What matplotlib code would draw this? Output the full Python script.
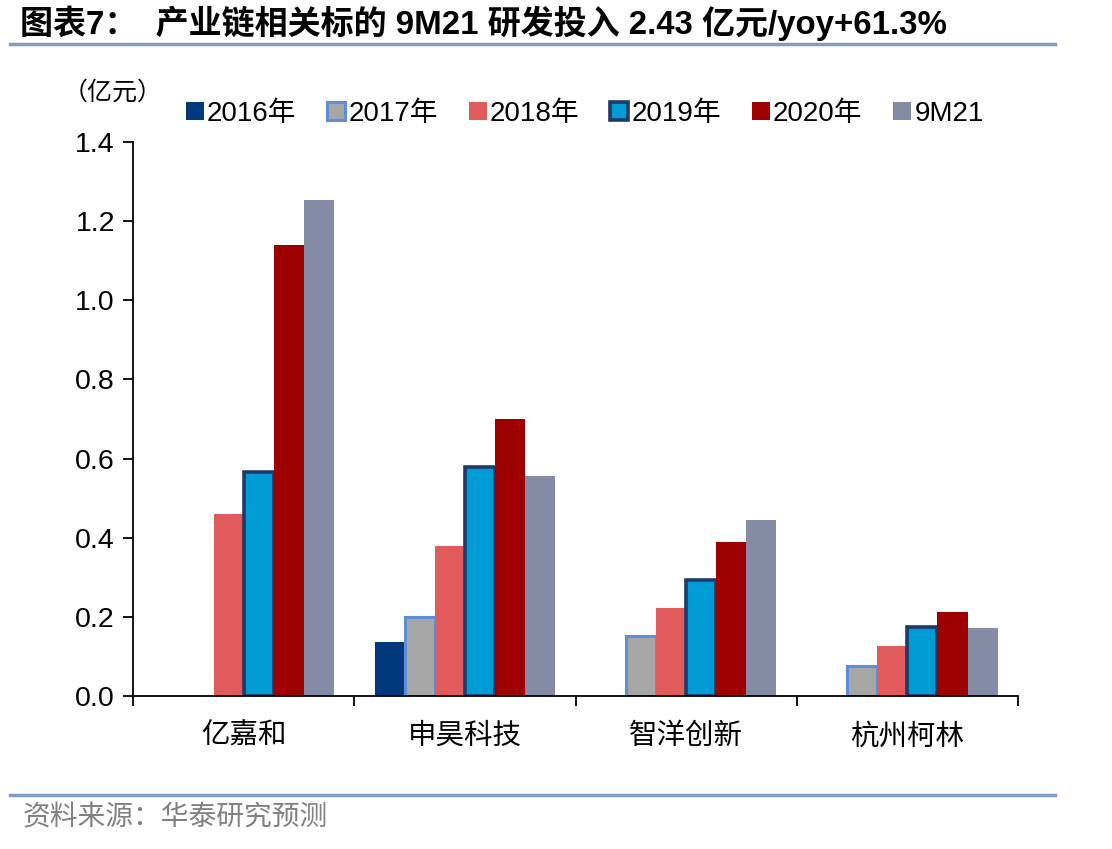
import numpy as np
import matplotlib
matplotlib.use("Agg")
import matplotlib.pyplot as plt
from matplotlib.lines import Line2D

plt.rcParams['font.family'] = ['Liberation Sans', 'Noto Sans CJK SC', 'DejaVu Sans']

# data (亿元)
companies = ['亿嘉和', '申昊科技', '智洋创新', '杭州柯林']
years = ['2016年', '2017年', '2018年', '2019年', '2020年', '9M21']
v2016 = [0.0, 0.137, 0.0, 0.0]
v2017 = [0.0, 0.200, 0.152, 0.076]
v2018 = [0.460, 0.379, 0.222, 0.127]
v2019 = [0.565, 0.579, 0.293, 0.174]
v2020 = [1.140, 0.700, 0.389, 0.212]
v9m21 = [1.253, 0.556, 0.445, 0.172]

series = [v2016, v2017, v2018, v2019, v2020, v9m21]
faces = ['#003a7d', '#a6a6a6', '#e15a5c', '#009bd5', '#9e0000', '#858ba5']
edges = ['#003a7d', '#5b8fd8', '#e15a5c', '#1f3a68', '#9e0000', '#858ba5']
lws = [0, 2.2, 0, 2.6, 0, 0]

fig = plt.figure(figsize=(11.12, 8.49), dpi=100)
ax = fig.add_axes([0.1196, 0.1802, 0.7959, 0.6525])

x = np.arange(len(companies))
w = 0.136
for i, vals in enumerate(series):
    pos = x + (i - 2.5) * w
    vv = np.array(vals)
    m = vv > 0
    ax.bar(pos[m], vv[m], width=w, color=faces[i], edgecolor=edges[i],
           linewidth=lws[i], label=years[i], zorder=2)

ax.set_xlim(-0.5, len(companies) - 0.5)
ax.set_ylim(0, 1.4)
ax.set_yticks(np.arange(0, 1.41, 0.2))
ax.set_yticklabels([f'{t:.1f}' for t in np.arange(0, 1.41, 0.2)], fontsize=20.5)
ax.set_xticks(x)
ax.set_xticklabels(companies, fontsize=20.5)
ax.set_xticks(np.arange(-0.5, len(companies), 1.0), minor=True)
ax.tick_params(axis='x', which='major', length=0, pad=20)
ax.tick_params(axis='x', which='minor', length=7, width=1.3, direction='out')
ax.tick_params(axis='y', length=7, width=1.3, direction='out', pad=6)
for s in ['top', 'right']:
    ax.spines[s].set_visible(False)
for s in ['left', 'bottom']:
    ax.spines[s].set_linewidth(1.3)

handles, labels = ax.get_legend_handles_labels()
fig.legend(handles, labels, loc='center left', bbox_to_anchor=(0.157, 0.866),
           ncol=6, frameon=False, fontsize=20, handlelength=0.65, handleheight=0.65,
           handletextpad=0.12, columnspacing=1.1, borderaxespad=0)

fig.text(0.056, 0.891, '（亿元）', fontsize=18, ha='left', va='center')

fig.text(0.018, 0.972, '图表7：  产业链相关标的 9M21 研发投入 2.43 亿元/yoy+61.3%',
         fontsize=23.8, fontweight='bold', ha='left', va='center')
fig.add_artist(Line2D([0.009, 0.949], [0.948, 0.948], color='#7f9cc6', lw=2.5))
fig.add_artist(Line2D([0.009, 0.949], [0.064, 0.064], color='#7f9cc6', lw=2.5))
fig.text(0.02, 0.036, '资料来源：华泰研究预测', fontsize=20, color='#808080',
         ha='left', va='center')

fig.savefig('out.png', dpi=100)
